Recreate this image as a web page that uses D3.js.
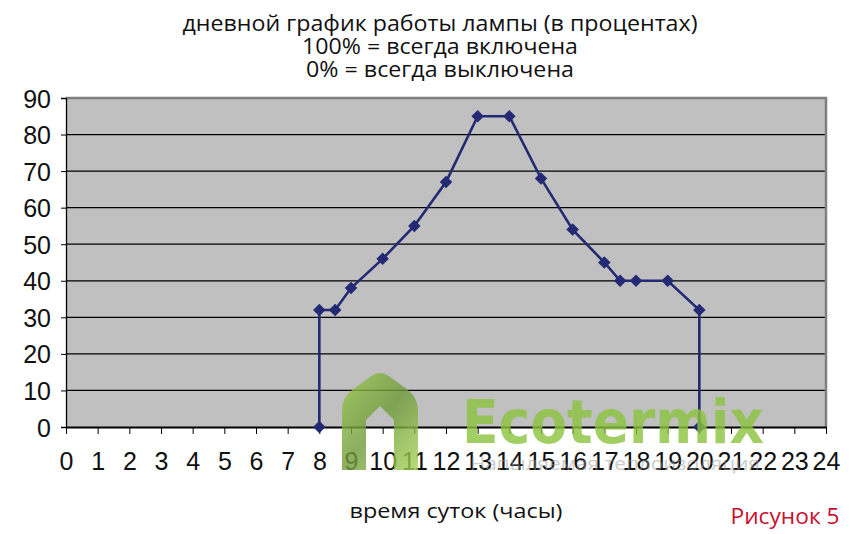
<!DOCTYPE html>
<html><head><meta charset="utf-8">
<script src="https://cdn.jsdelivr.net/npm/d3@7"></script>
<style>body{margin:0;background:#fff}svg{display:block}</style>
</head><body>
<svg id="c" width="855" height="534"></svg>
<script>
// Data
const hours = [8, 8, 8.5, 9, 10, 11, 12, 13, 14, 15, 16, 17, 17.5, 18, 19, 20, 20];
const percent = [0, 32, 32, 38, 46, 55, 67, 85, 85, 68, 54, 45, 40, 40, 40, 32, 0];
const xTicks = d3.range(0, 25);
const yTicks = [0, 10, 20, 30, 40, 50, 60, 70, 80, 90];
const titleLines = ["дневной график работы лампы (в процентах)", "100% = всегда включена", "0% = всегда выключена"];
const xTitle = "время суток (часы)";
const figLabel = "Рисунок 5";

const svg = d3.select("#c");
const L = 66, R = 826, T = 98, B = 427;
const x = d3.scaleLinear().domain([0, 24]).range([L, R]);
const y = d3.scaleLinear().domain([0, 90]).range([B, T]);

// plot area
svg.append("rect").attr("x", L).attr("y", T).attr("width", R - L).attr("height", B - T)
  .attr("fill", "#c0c0c0");
// gridlines
svg.append("g").selectAll("line").data(yTicks.filter(d => d > 0 && d < 90)).join("line")
  .attr("x1", L).attr("x2", R).attr("y1", d => y(d)).attr("y2", d => y(d))
  .attr("stroke", "#000").attr("stroke-width", 1.3);
// border (gray top/right)
svg.append("path").attr("d", `M${L},${T}H${R}V${B}`).attr("fill", "none")
  .attr("stroke", "#808080").attr("stroke-width", 2.5);

// axes
const yAxis = d3.axisLeft(y).tickValues(yTicks).tickSize(5).tickPadding(10);
const gy = svg.append("g").attr("transform", `translate(${L},0)`).call(yAxis);
gy.select(".domain").attr("stroke", "#000").attr("stroke-width", 1.3);
gy.selectAll(".tick line").attr("stroke", "#000");
gy.selectAll("text").attr("font-family", "Liberation Sans, Arial").attr("font-size", 25).attr("fill", "#111")
  .attr("dy", "0.36em");

const xAxis = d3.axisBottom(x).tickValues(xTicks).tickSize(7).tickPadding(18).tickSizeOuter(0);
const gx = svg.append("g").attr("transform", `translate(0,${B})`).call(xAxis);
gx.select(".domain").attr("stroke", "#000").attr("stroke-width", 2.2);
gx.selectAll(".tick line").attr("stroke", "#000");
gx.selectAll("text").attr("font-family", "Liberation Sans, Arial").attr("font-size", 25).attr("fill", "#111");

// line + markers
const line = d3.line().x((d, i) => x(hours[i])).y(d => y(d));
svg.append("path").attr("d", line(percent)).attr("fill", "none")
  .attr("stroke", "#232a73").attr("stroke-width", 2.6);
svg.append("g").selectAll("path").data(percent).join("path")
  .attr("transform", (d, i) => `translate(${x(hours[i])},${y(d)})`)
  .attr("d", d3.symbol(d3.symbolDiamond2, 100)())
  .attr("fill", "#232a73");

// titles
const tf = "'Open Sans', sans-serif";
const tl = [515, 276, 268];
const tb = [31, 54, 77];
titleLines.forEach((t, i) => {
  svg.append("text").attr("x", 440).attr("y", tb[i]).attr("text-anchor", "middle")
    .attr("font-family", tf).attr("font-size", 21).attr("fill", "#111")
    .attr("textLength", tl[i]).attr("lengthAdjust", "spacingAndGlyphs").text(t);
});
svg.append("text").attr("x", 456).attr("y", 518).attr("text-anchor", "middle")
  .attr("font-family", tf).attr("font-size", 20).attr("fill", "#111")
  .attr("textLength", 213).attr("lengthAdjust", "spacingAndGlyphs").text(xTitle);
svg.append("text").attr("x", 785).attr("y", 524).attr("text-anchor", "middle")
  .attr("font-family", tf).attr("font-size", 21).attr("fill", "#c8102e")
  .attr("textLength", 109).attr("lengthAdjust", "spacingAndGlyphs").text(figLabel);

// watermark
const defs = svg.append("defs");
const gr = defs.append("linearGradient").attr("id", "hg").attr("x1", 0).attr("y1", 0).attr("x2", 1).attr("y2", 1);
gr.append("stop").attr("offset", 0).attr("stop-color", "#9ccc4a");
gr.append("stop").attr("offset", 0.5).attr("stop-color", "#6f9a3a");
gr.append("stop").attr("offset", 1).attr("stop-color", "#a6d455");
const wm = svg.append("g").attr("opacity", 0.8);
wm.append("path").attr("fill", "url(#hg)").attr("fill-rule", "evenodd")
  .attr("d", "M342,410 Q342,398 352,390 L370,377 Q380,369 390,377 L408,390 Q418,398 418,410 L418,470 L394,470 L394,420 L380,406 L366,420 L366,470 L342,470 Z");
wm.append("text").attr("x", 462).attr("y", 443).attr("font-family", "'DejaVu Sans', sans-serif")
  .attr("font-weight", "bold").attr("font-size", 60).attr("fill", "#8cc43e")
  .attr("textLength", 302).attr("lengthAdjust", "spacingAndGlyphs").text("Ecotermix");
svg.append("text").attr("x", 470).attr("y", 470).attr("font-family", "'Open Sans', sans-serif")
  .attr("font-size", 19).attr("fill", "#9a9a9a").attr("opacity", 0.5)
  .attr("textLength", 290).attr("lengthAdjust", "spacingAndGlyphs").text("Напыляемая теплоизоляция");
</script>
</body></html>
